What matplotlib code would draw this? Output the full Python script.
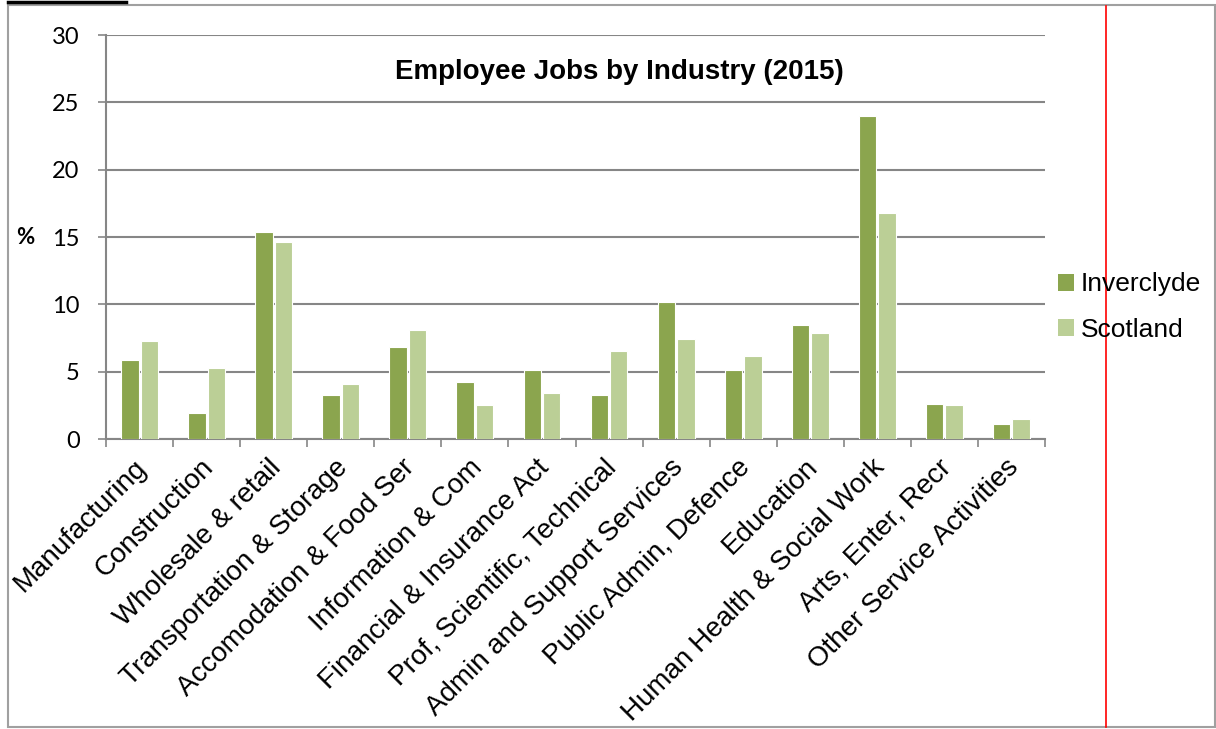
import matplotlib.pyplot as plt
import matplotlib.transforms as mtransforms
from matplotlib.lines import Line2D
from matplotlib.patches import Rectangle, Patch
import numpy as np

industries = [
    "Manufacturing", "Construction", "Wholesale & retail",
    "Transportation & Storage", "Accomodation & Food Ser",
    "Information & Com", "Financial & Insurance Act",
    "Prof, Scientific, Technical", "Admin and Support Services",
    "Public Admin, Defence", "Education", "Human Health & Social Work",
    "Arts, Enter, Recr", "Other Service Activities",
]
inverclyde = [5.9, 1.9, 15.4, 3.3, 6.8, 4.2, 5.1, 3.3, 10.2, 5.1, 8.5, 24.0, 2.6, 1.1]
scotland = [7.3, 5.3, 14.6, 4.1, 8.1, 2.5, 3.4, 6.5, 7.4, 6.2, 7.9, 16.8, 2.5, 1.5]
series_names = ["Inverclyde", "Scotland"]
yticks = [0, 5, 10, 15, 20, 25, 30]

dark_green = "#8ba54e"
light_green = "#bbcf96"
grey = "#868686"

W, H = 1216, 729
fig = plt.figure(figsize=(W / 100, H / 100), dpi=100)

# page frame, red margin line and the cut-off underline at the very top
fig.patches.append(Rectangle((8 / W, 1 - 727 / H), 1207 / W, 722 / H,
                             transform=fig.transFigure, fill=False,
                             edgecolor="#a0a0a0", linewidth=1.5))
fig.lines.append(Line2D([1106 / W, 1106 / W], [1 - 6 / H, 1 - 727 / H],
                        transform=fig.transFigure, color="red", linewidth=1.2))
fig.lines.append(Line2D([8 / W, 126 / W], [1 - 1.5 / H, 1 - 1.5 / H],
                        transform=fig.transFigure, color="black", linewidth=2.5))

ax = fig.add_axes([106 / W, 1 - 439 / H, (1045 - 106) / W, (439 - 35) / H])

x = np.arange(len(industries))
w = 0.26
ax.bar(x - 0.145, inverclyde, w, color=dark_green, edgecolor="white",
       linewidth=0.8, zorder=3)
ax.bar(x + 0.145, scotland, w, color=light_green, edgecolor="white",
       linewidth=0.8, zorder=3)

ax.set_xlim(-0.5, len(industries) - 0.5)
ax.set_ylim(0, 30)
ax.set_yticks(yticks)
ax.set_yticklabels([str(v) for v in yticks], fontfamily="Lato", fontsize=17)
ax.yaxis.grid(True, color=grey, linewidth=1.5, zorder=0)
ax.set_axisbelow(True)

for side in ["top", "right"]:
    ax.spines[side].set_visible(False)
for side in ["left", "bottom"]:
    ax.spines[side].set_color(grey)
    ax.spines[side].set_linewidth(1.5)

ax.tick_params(axis="y", direction="out", length=6, width=1.2, color=grey, pad=13)

# category boundaries get the tick marks, centres get the labels
ax.set_xticks(np.arange(len(industries) + 1) - 0.5, minor=True)
ax.tick_params(axis="x", which="minor", direction="out", length=6, width=1.2, color=grey)
ax.set_xticks(x)
ax.set_xticklabels(industries, rotation=45, ha="right", rotation_mode="anchor",
                   fontfamily="Liberation Sans", fontsize=20)
ax.tick_params(axis="x", which="major", length=0, pad=11)
offset = mtransforms.ScaledTranslation(-6 / 100, 0, fig.dpi_scale_trans)
for lbl in ax.get_xticklabels():
    lbl.set_transform(lbl.get_transform() + offset)

fig.text(619 / W, 1 - 72 / H, "Employee Jobs by Industry (2015)", ha="center",
         va="center", fontfamily="Liberation Sans", fontweight="bold", fontsize=20)
fig.text(25 / W, 1 - 238 / H, "%", ha="center", va="center",
         fontfamily="Lato", fontweight="bold", fontsize=16)

handles = [Patch(facecolor=dark_green), Patch(facecolor=light_green)]
fig.legend(handles, series_names, loc="center left",
           bbox_to_anchor=(1045 / W, 1 - 307 / H), frameon=False,
           prop={"family": "Liberation Sans", "size": 19},
           handlelength=0.6, handleheight=0.6, handletextpad=0.25,
           labelspacing=0.8, borderpad=0)

fig.savefig("out.png", dpi=100)
